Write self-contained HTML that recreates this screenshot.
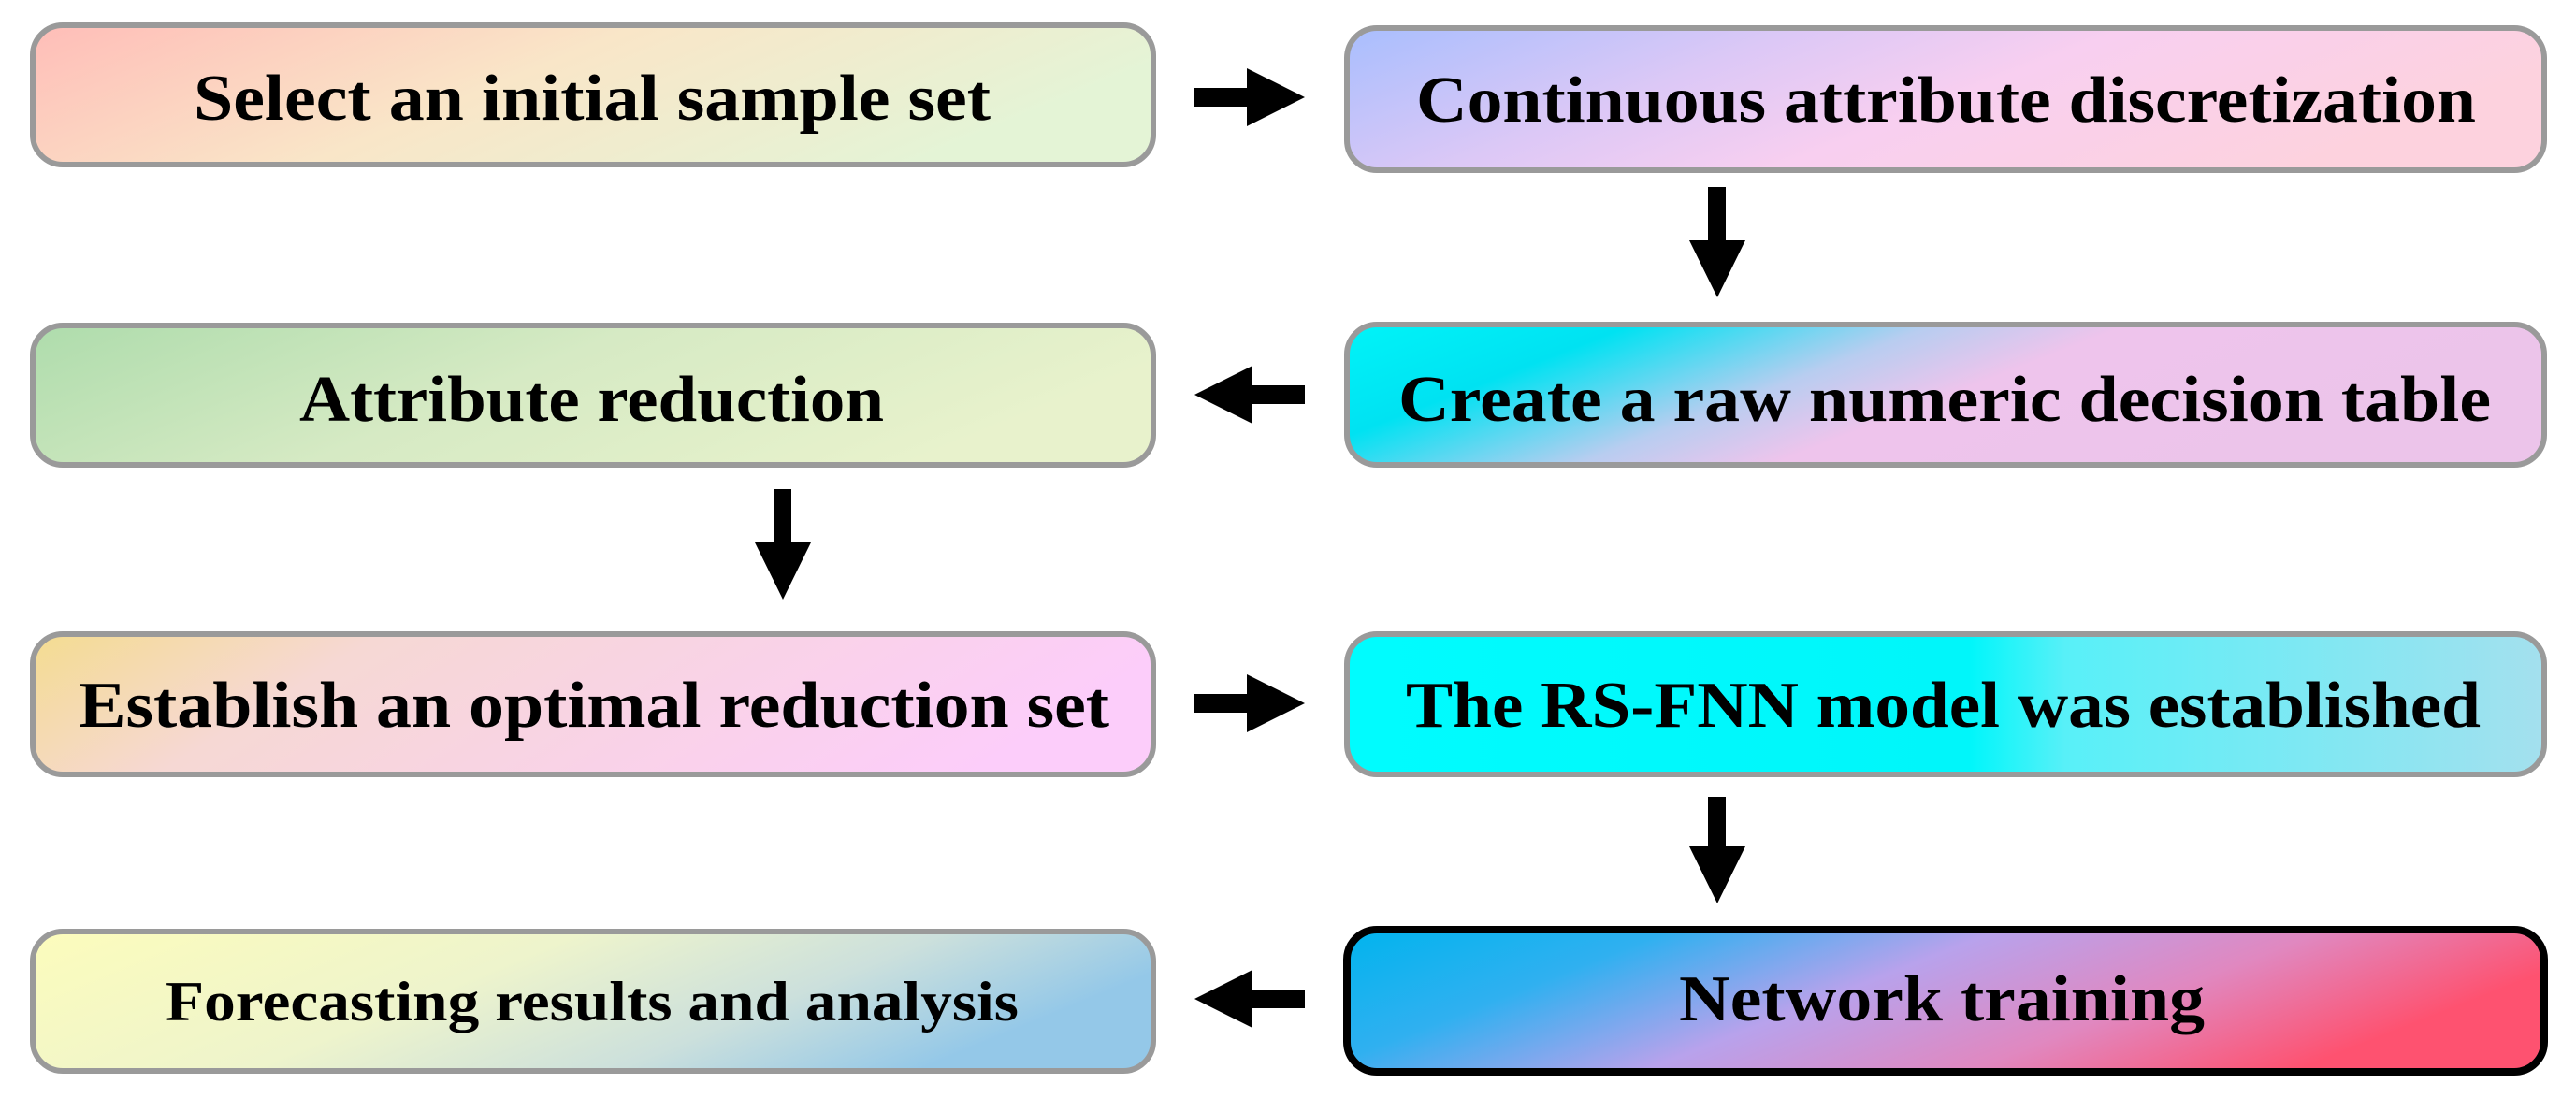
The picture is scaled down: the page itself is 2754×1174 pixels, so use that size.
<!DOCTYPE html>
<html><head><meta charset="utf-8"><style>
html,body{margin:0;padding:0;background:#fff;}
svg{display:block;}
text{font-family:"Liberation Serif",serif;font-weight:bold;fill:#000;}
</style></head><body>
<svg width="2754" height="1174" viewBox="0 0 2754 1174" xmlns="http://www.w3.org/2000/svg">
<defs>
<linearGradient id="g1" x1="0" y1="0" x2="1" y2="0.3"><stop offset="0" stop-color="#ffbdb8"/><stop offset="0.5" stop-color="#f9e6c8"/><stop offset="1" stop-color="#e4f4d6"/></linearGradient>
<linearGradient id="g2" x1="0" y1="0" x2="1" y2="0.3"><stop offset="0" stop-color="#a8befe"/><stop offset="0.35" stop-color="#dcc8f6"/><stop offset="0.6" stop-color="#f8cff0"/><stop offset="1" stop-color="#fdd2de"/></linearGradient>
<linearGradient id="g3" x1="0" y1="0" x2="1" y2="0.3"><stop offset="0" stop-color="#aedcac"/><stop offset="0.5" stop-color="#d6eac4"/><stop offset="1" stop-color="#e8f2cc"/></linearGradient>
<linearGradient id="g4" x1="0" y1="0" x2="1" y2="0.3"><stop offset="0" stop-color="#00f4f8"/><stop offset="0.22" stop-color="#00e2f2"/><stop offset="0.45" stop-color="#b8cdf0"/><stop offset="0.6" stop-color="#eec4ec"/><stop offset="1" stop-color="#ecc4ea"/></linearGradient>
<linearGradient id="g5" x1="0" y1="0" x2="1" y2="0.2"><stop offset="0" stop-color="#f4dc90"/><stop offset="0.3" stop-color="#f6d8d4"/><stop offset="1" stop-color="#fccdfa"/></linearGradient>
<linearGradient id="g6" x1="0" y1="0" x2="1" y2="0"><stop offset="0" stop-color="#00fcfe"/><stop offset="0.52" stop-color="#00f6fa"/><stop offset="0.6" stop-color="#58f0f8"/><stop offset="1" stop-color="#a4e0ee"/></linearGradient>
<linearGradient id="g7" x1="0" y1="0" x2="1" y2="0.3"><stop offset="0" stop-color="#fcfcbc"/><stop offset="0.45" stop-color="#eef4cc"/><stop offset="0.75" stop-color="#cce0dc"/><stop offset="1" stop-color="#94c8e8"/></linearGradient>
<linearGradient id="g8" x1="0" y1="0" x2="1" y2="0.3"><stop offset="0" stop-color="#00b4ee"/><stop offset="0.25" stop-color="#30b0f0"/><stop offset="0.5" stop-color="#b8a2ec"/><stop offset="0.75" stop-color="#e088c0"/><stop offset="1" stop-color="#fe5270"/></linearGradient>
</defs>
<g stroke="#9a9a9a" stroke-width="6">
<rect x="35" y="27" width="1198" height="149" rx="32" fill="url(#g1)"/>
<rect x="1440" y="30" width="1280" height="152" rx="32" fill="url(#g2)"/>
<rect x="35" y="348" width="1198" height="149" rx="32" fill="url(#g3)"/>
<rect x="1440" y="347" width="1280" height="150" rx="32" fill="url(#g4)"/>
<rect x="35" y="678" width="1198" height="150" rx="32" fill="url(#g5)"/>
<rect x="1440" y="678" width="1280" height="150" rx="32" fill="url(#g6)"/>
<rect x="35" y="996" width="1198" height="149" rx="32" fill="url(#g7)"/>
<rect x="1440" y="994" width="1280" height="152" rx="32" fill="url(#g8)" stroke="#000" stroke-width="8"/>
</g>
<g font-size="70">
<text x="207" y="128" textLength="852" lengthAdjust="spacingAndGlyphs">Select an initial sample set</text>
<text x="1514" y="130" textLength="1133" lengthAdjust="spacingAndGlyphs">Continuous attribute discretization</text>
<text x="320" y="450" textLength="625" lengthAdjust="spacingAndGlyphs">Attribute reduction</text>
<text x="1495" y="450" textLength="1168" lengthAdjust="spacingAndGlyphs">Create a raw numeric decision table</text>
<text x="84" y="777" textLength="1102" lengthAdjust="spacingAndGlyphs">Establish an optimal reduction set</text>
<text x="1503" y="777" textLength="1149" lengthAdjust="spacingAndGlyphs">The RS-FNN model was established</text>
<text x="177" y="1091" font-size="60" textLength="912" lengthAdjust="spacingAndGlyphs">Forecasting results and analysis</text>
<text x="1795" y="1091" textLength="562" lengthAdjust="spacingAndGlyphs">Network training</text>
</g>
<g fill="#000">
<polygon points="1277,94 1333,94 1333,73 1395,104 1333,135 1333,114 1277,114"/>
<polygon points="1395,412 1339,412 1339,391 1277,422 1339,453 1339,432 1395,432"/>
<polygon points="1277,742 1333,742 1333,721 1395,752 1333,783 1333,762 1277,762"/>
<polygon points="1395,1058 1339,1058 1339,1037 1277,1068 1339,1099 1339,1078 1395,1078"/>
<polygon points="1826,200 1845,200 1845,257 1866,257 1836,318 1806,257 1826,257"/>
<polygon points="827,523 846,523 846,580 867,580 837,641 807,580 827,580"/>
<polygon points="1826,852 1845,852 1845,905 1866,905 1836,966 1806,905 1826,905"/>
</g>
</svg>
</body></html>
